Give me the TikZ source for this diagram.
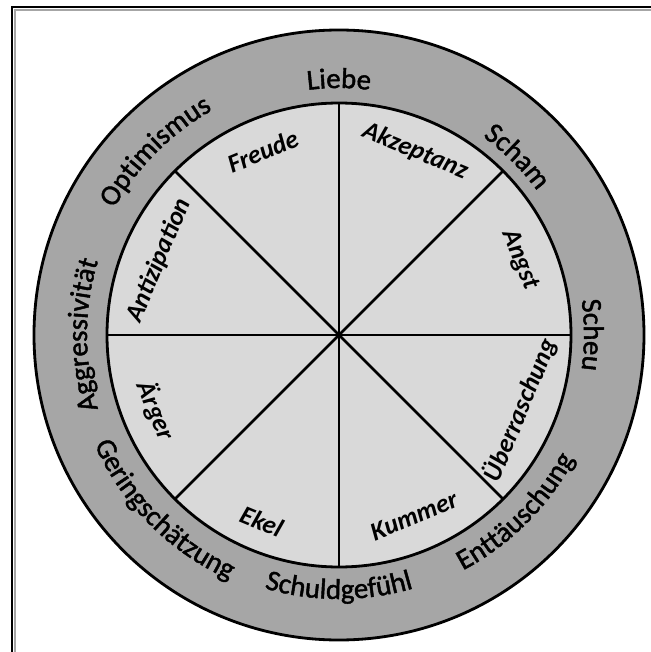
\documentclass[tikz,border=0pt]{standalone}
\usepackage{fontspec}
\setmainfont{Carlito}
\newfontfamily\ringfam{Carlito}[FakeBold=1.5]
\usepackage{xcolor}
\usetikzlibrary{decorations.text}

\definecolor{ringgray}{HTML}{A6A6A6}
\definecolor{sectgray}{HTML}{D9D9D9}
\newcommand\ringfont{\ringfam\fontsize{20.5}{24}\selectfont}
\newcommand\sectfont{\fontsize{18.5}{22}\selectfont\bfseries\itshape}

\begin{document}
\begin{tikzpicture}[
  x=0.025cm, y=0.025cm,
  frame/.style ={draw=black,line width=2pt},
  shade/.style ={draw=black!35,line width=1pt},
  ring/.style  ={draw=black,line width=2pt,fill=ringgray},
  sector/.style={draw=black,line width=2pt,fill=sectgray},
  spoke/.style ={draw=black,line width=2pt},
  inlab/.style ={font=\sectfont,inner sep=0pt,anchor=center},
  outlab/.style={decorate,decoration={text along path,text align=center,
                 text={|\ringfont|#1}}},
]
\useasboundingbox (-339,-317) rectangle (312,335);

%% ─── frame (cut at right and bottom) ─────────────────────────────────────────
\draw[shade] (312,325) -- (-324,325) -- (-324,-317);
\draw[frame] (312,328) -- (-327,328) -- (-327,-317);

%% ─── wheel ───────────────────────────────────────────────────────────────────
\coordinate (c) at (0,0);
\filldraw[ring]   (c) circle[radius=305];
\filldraw[sector] (c) circle[radius=232];
\foreach \a in {0,45,...,315}
  \draw[spoke] (c) -- (\a:232);

%% ─── inner emotions ──────────────────────────────────────────────────────────
\node[inlab,rotate=22.5]  (freude) at (112.5:199) {Freude};
\node[inlab,rotate=-22.5] (akzept) at (67.5:199)  {Akzeptanz};
\node[inlab,rotate=-67.5] (angst)  at (22.5:196)  {Angst};
\node[inlab,rotate=67.5]  (ueber)  at (-22.5:196) {Überraschung};
\node[inlab,rotate=22.5]  (kummer) at (-67.5:196) {Kummer};
\node[inlab,rotate=-22.5] (ekel)   at (-112.5:202){Ekel};
\node[inlab,rotate=-67.5] (aerger) at (-157.5:198){Ärger};
\node[inlab,rotate=67.5]  (antiz)  at (157.5:195) {Antizipation};

%% ─── outer ring: upper half (clockwise) ──────────────────────────────────────
\path[outlab=Liebe]          (130:247) arc[start angle=130,end angle=50,radius=247];
\path[outlab=Scham]          (85:245)  arc[start angle=85, end angle=5, radius=245];
\path[outlab=Scheu]          (40:245)  arc[start angle=40, end angle=-40,radius=245];
\path[outlab=Optimismus]     (175:258) arc[start angle=175,end angle=95,radius=258];
\path[outlab=Aggressivität]  (220:252) arc[start angle=220,end angle=140,radius=252];

%% ─── outer ring: lower half (counter-clockwise) ──────────────────────────────
\path[outlab=Geringschätzung](-175:268) arc[start angle=-175,end angle=-95,radius=268];
\path[outlab=Schuldgefühl]   (-130:264) arc[start angle=-130,end angle=-50,radius=264];
\path[outlab=Enttäuschung]   (-85:266)  arc[start angle=-85, end angle=-5, radius=266];

\end{tikzpicture}
\end{document}
